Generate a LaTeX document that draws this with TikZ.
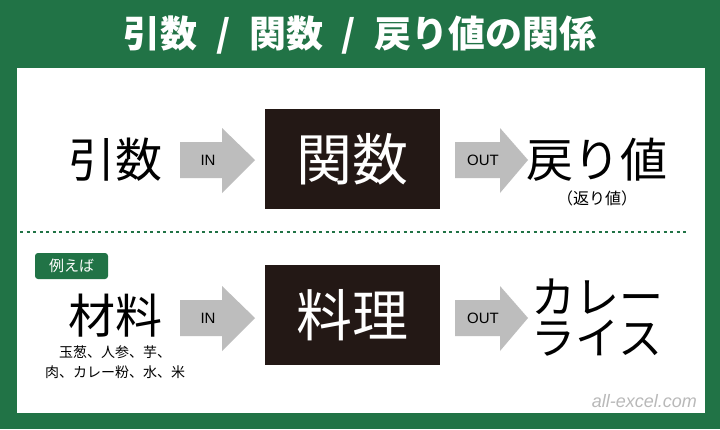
\documentclass[tikz,border=0pt]{standalone}
\usepackage{fontspec}
\setmainfont{Noto Sans CJK JP}
\newfontfamily\latinf{Liberation Sans}
\definecolor{xlgreen}{HTML}{217346}
\definecolor{arrgray}{HTML}{BDBDBD}
\definecolor{boxblack}{HTML}{231815}
\begin{document}
\begin{tikzpicture}[x=1pt,y=-1pt,
  big/.style={font=\fontsize{47}{48}\selectfont, inner sep=0pt},
  blackbox/.style={fill=boxblack, minimum width=175pt, minimum height=100pt, text=white, font=\fontsize{56}{58}\selectfont, inner sep=0pt},
  arrlabel/.style={font=\latinf\fontsize{15}{16}\selectfont, inner sep=0pt}]
\fill[xlgreen] (0,0) rectangle (720,429);
\useasboundingbox (0,0) rectangle (720,429);
\fill[white] (17,68) rectangle (705,413);
\node[text=white, font=\fontsize{37}{38}\selectfont\bfseries, inner sep=0pt] (title) at (360,35) {引数\hspace{0.5em}/\hspace{0.5em}関数\hspace{0.5em}/\hspace{0.5em}戻り値の関係};
% row 1
\node[big] (arg) at (115,160) {引数};
\node[blackbox] (func) at (352,159) {関数};
\node[big] (ret) at (597,160) {戻り値};
\node[font=\fontsize{16}{18}\selectfont, inner sep=0pt] (ret2) at (597,198) {（返り値）};
\fill[arrgray] (180,142) -- (222,142) -- (222,128) -- (255,160) -- (222,193) -- (222,178) -- (180,178) -- cycle;
\node[arrlabel] (in1) at (208,160) {IN};
\fill[arrgray] (455,142) -- (500,142) -- (500,128) -- (528,160) -- (500,193) -- (500,178) -- (455,178) -- cycle;
\node[arrlabel] (out1) at (483,160) {OUT};
% divider
\coordinate (d1) at (20,232); \coordinate (d2) at (686,232);
\draw[xlgreen, dash pattern=on 3pt off 3.5pt, line width=1.2pt] (d1) -- (d2);
% row 2
\node[fill=xlgreen, rounded corners=3pt, minimum width=73pt, minimum height=26pt, text=white, font=\fontsize{15}{16}\selectfont, inner sep=0pt] (ex) at (71.5,266) {例えば};
\node[big] (mat) at (115,316) {材料};
\node[font=\fontsize{14}{16}\selectfont, inner sep=0pt] (m1) at (115,352) {玉葱、人参、芋、};
\node[font=\fontsize{14}{16}\selectfont, inner sep=0pt] (m2) at (115,372) {肉、カレー粉、水、米};
\node[blackbox] (cook) at (352,315) {料理};
\fill[arrgray] (180,300) -- (222,300) -- (222,286) -- (255,318) -- (222,351) -- (222,336) -- (180,336) -- cycle;
\node[arrlabel] (in2) at (208,318) {IN};
\fill[arrgray] (455,300) -- (500,300) -- (500,286) -- (528,318) -- (500,351) -- (500,336) -- (455,336) -- cycle;
\node[arrlabel] (out2) at (483,318) {OUT};
\node[big, font=\fontsize{44}{46}\selectfont] (cr1) at (597,297) {カレー};
\node[big, font=\fontsize{44}{46}\selectfont] (cr2) at (597,338) {ライス};
\node[anchor=east, text=gray!55, font=\latinf\itshape\fontsize{18}{20}\selectfont, inner sep=0pt] (wm) at (697,401) {all-excel.com};
\end{tikzpicture}
\end{document}
